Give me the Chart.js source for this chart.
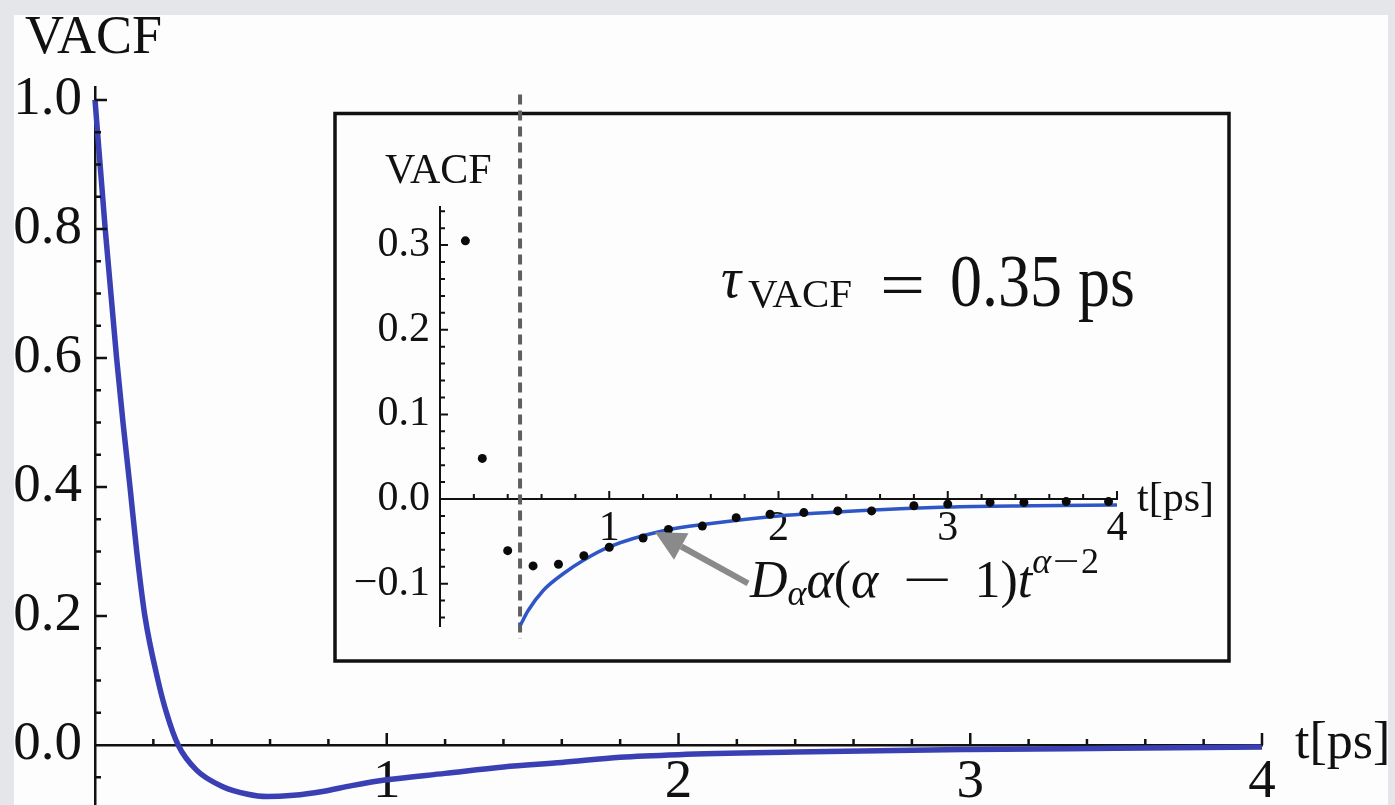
<!DOCTYPE html>
<html><head><meta charset="utf-8">
<script src="https://cdn.jsdelivr.net/npm/chart.js@4.4.1/dist/chart.umd.min.js"></script>
<style>
html,body{margin:0;padding:0;}
body{width:1395px;height:805px;overflow:hidden;background:#e4e6e9;position:relative;}
#panel{position:absolute;left:14px;top:15px;width:1374px;height:790px;background:#fdfdfe;}
canvas{position:absolute;left:0;top:0;}
.lbl{position:absolute;white-space:nowrap;line-height:1;font-family:'Liberation Serif','Times New Roman',serif;color:#111;}
.it{font-style:italic;}
.sub{font-size:36px;position:relative;top:8px;}
.sup{font-size:36px;position:relative;top:-24px;}
.wm{display:inline-block;text-align:center;}
</style></head><body>
<div id="panel"></div>
<canvas id="main" width="1395" height="805"></canvas>
<canvas id="inset" width="1395" height="805"></canvas>
<script>
// ---- main VACF curve ----
const mainTime = [0, 0.035, 0.074, 0.096, 0.12, 0.143, 0.171, 0.216, 0.245, 0.285, 0.348, 0.44, 0.52, 0.59, 0.68, 0.78, 0.88, 1.0, 1.2, 1.4, 1.6, 1.8, 2.0, 2.4, 2.8, 3.0, 3.5, 4.0];
const mainVacf = [1.0, 0.80, 0.60, 0.50, 0.40, 0.30, 0.20, 0.10, 0.05, 0.0, -0.039, -0.065, -0.076, -0.080, -0.078, -0.072, -0.063, -0.054, -0.044, -0.034, -0.027, -0.019, -0.015, -0.011, -0.008, -0.007, -0.005, -0.003];
// ---- inset: simulation points ----
const insetDotTime = [0.15, 0.25, 0.40, 0.55, 0.70, 0.85, 1.00, 1.20, 1.35, 1.55, 1.75, 1.95, 2.15, 2.35, 2.55, 2.80, 3.00, 3.25, 3.45, 3.70, 3.95];
const insetDotVacf = [0.305, 0.048, -0.061, -0.079, -0.077, -0.067, -0.057, -0.046, -0.036, -0.032, -0.022, -0.018, -0.016, -0.014, -0.014, -0.008, -0.006, -0.004, -0.004, -0.003, -0.003];
// ---- inset: power-law tail D_a a(a-1) t^(a-2) ----
const insetFitTime = [0.475, 0.52, 0.61, 0.73, 0.85, 1.0, 1.32, 1.6, 2.0, 2.5, 3.0, 3.5, 4.0];
const insetFitVacf = [-0.149, -0.132, -0.108, -0.088, -0.072, -0.0565, -0.0375, -0.029, -0.020, -0.0135, -0.0095, -0.008, -0.007];
// ---- tick labels ----
const mainXTicks = [1, 2, 3, 4];
const mainYTicks = [0.0, 0.2, 0.4, 0.6, 0.8, 1.0];
const insetXTicks = [1, 2, 3, 4];
const insetYTicks = [-0.1, 0.0, 0.1, 0.2, 0.3];
const cutoffTime = 0.473;   // dashed vertical marker (inset time units)
const arrowTip = [1.27, -0.039];
const arrowTail = [1.82, -0.0995];

const serif = "'Liberation Serif','Times New Roman',serif";
const pts = (xs, ys) => xs.map((x, i) => ({x, y: ys[i]}));
const fmt = v => (v < 0 ? '\u2212' : '') + Math.abs(v).toFixed(1);

function tickMarks(o) {
  return {
    id: 'tickMarks',
    afterDraw(chart) {
      const {ctx, chartArea} = chart;
      const xs = chart.scales.x, ys = chart.scales.y;
      const ax = chartArea.left, ay = ys.getPixelForValue(0);
      ctx.save();
      ctx.strokeStyle = '#111'; ctx.lineWidth = o.width;
      ctx.beginPath();
      o.yValues.forEach(([v, major]) => {
        const p = ys.getPixelForValue(v);
        ctx.moveTo(ax, p); ctx.lineTo(ax + (major ? o.majorLen : o.minorLen), p);
      });
      o.xValues.forEach(([v, major]) => {
        const p = xs.getPixelForValue(v);
        ctx.moveTo(p, ay); ctx.lineTo(p, ay - (major ? o.majorLen : o.minorLen));
      });
      ctx.stroke();
      ctx.restore();
    }
  };
}
function range(k0, k1, step, majorEvery) {
  const out = [];
  for (let k = k0; k <= k1; k++) if (k !== 0) out.push([+(k * step).toFixed(4), k % majorEvery === 0]);
  return out;
}
const noPad = s => { s.paddingTop = 0; s.paddingBottom = 0; };

// ================= MAIN CHART =================
new Chart(document.getElementById('main'), {
  type: 'line',
  data: { datasets: [{
    label: 'VACF', data: pts(mainTime, mainVacf),
    borderColor: '#3a3fb4', borderWidth: 5.5, pointRadius: 0,
    cubicInterpolationMode: 'monotone', fill: false, clip: false
  }]},
  options: {
    responsive: false, animation: false, devicePixelRatio: 1,
    layout: { padding: { left: 0, right: 133, top: 87, bottom: 0 } },
    plugins: { legend: { display: false }, tooltip: { enabled: false } },
    scales: {
      x: {
        type: 'linear', min: 0, max: 4, position: { y: 0 },
        grid: { display: false, drawTicks: false },
        border: { display: true, color: '#111', width: 2.5 },
        afterFit: s => { s.height = 0; },
        afterBuildTicks: s => { s.ticks = mainXTicks.map(v => ({value: v})); },
        ticks: { autoSkip: false, maxRotation: 0, padding: 5, color: '#111',
                 font: { family: serif, size: 55 }, callback: v => String(v) }
      },
      y: {
        type: 'linear', min: -0.093, max: 1.02, position: 'left',
        grid: { display: false, drawTicks: false },
        border: { display: true, color: '#111', width: 2.5 },
        afterFit: s => { s.width = 95; noPad(s); },
        afterBuildTicks: s => { s.ticks = mainYTicks.map(v => ({value: v})); },
        ticks: { autoSkip: false, padding: 13, color: '#111',
                 font: { family: serif, size: 55 }, callback: v => v.toFixed(1) }
      }
    }
  },
  plugins: [tickMarks({ width: 2.5, majorLen: 12, minorLen: 6,
    yValues: range(-1, 20, 0.05, 4), xValues: range(1, 20, 0.2, 5) })]
});

// ================= INSET CHART =================
const insetDecor = {
  id: 'insetDecor',
  beforeDraw(chart) {
    const ctx = chart.ctx;
    ctx.save();
    ctx.fillStyle = '#fdfdfe';
    ctx.fillRect(333, 112, 898, 551);
    ctx.strokeStyle = '#111'; ctx.lineWidth = 3.5;
    ctx.strokeRect(335, 113.5, 894, 547.5);
    ctx.restore();
  },
  beforeDatasetsDraw(chart) {
    const ctx = chart.ctx, xs = chart.scales.x, ys = chart.scales.y;
    const px = xs.getPixelForValue(cutoffTime);
    ctx.save();
    ctx.strokeStyle = '#5f5f5f'; ctx.lineWidth = 4; ctx.setLineDash([10, 6]);
    ctx.beginPath();
    ctx.moveTo(px, ys.getPixelForValue(0.478));
    ctx.lineTo(px, ys.getPixelForValue(-0.165));
    ctx.stroke();
    ctx.restore();
  },
  afterDatasetsDraw(chart) {
    const ctx = chart.ctx, xs = chart.scales.x, ys = chart.scales.y;
    const tx = xs.getPixelForValue(arrowTip[0]), ty = ys.getPixelForValue(arrowTip[1]);
    const sx = xs.getPixelForValue(arrowTail[0]), sy = ys.getPixelForValue(arrowTail[1]);
    const ang = Math.atan2(ty - sy, tx - sx), L = 30, W = 15;
    const bx = tx - L * Math.cos(ang), by = ty - L * Math.sin(ang);
    ctx.save();
    ctx.strokeStyle = '#8a8a8a'; ctx.fillStyle = '#8a8a8a'; ctx.lineWidth = 6;
    ctx.beginPath(); ctx.moveTo(sx, sy); ctx.lineTo(bx, by); ctx.stroke();
    ctx.beginPath();
    ctx.moveTo(tx, ty);
    ctx.lineTo(bx + W * Math.sin(ang), by - W * Math.cos(ang));
    ctx.lineTo(bx - W * Math.sin(ang), by + W * Math.cos(ang));
    ctx.closePath(); ctx.fill();
    ctx.restore();
  }
};

new Chart(document.getElementById('inset'), {
  type: 'line',
  data: { datasets: [
    { label: 'MD', data: pts(insetDotTime, insetDotVacf), showLine: false,
      pointRadius: 4.5, pointBackgroundColor: '#0a0a0a', pointBorderWidth: 0, borderColor: '#0a0a0a', clip: false },
    { label: 'fit', data: pts(insetFitTime, insetFitVacf), borderColor: '#2f56c6', borderWidth: 3.5,
      pointRadius: 0, cubicInterpolationMode: 'monotone', fill: false, clip: false }
  ]},
  options: {
    responsive: false, animation: false, devicePixelRatio: 1,
    layout: { padding: { left: 0, right: 278, top: 207, bottom: 179 } },
    plugins: { legend: { display: false }, tooltip: { enabled: false } },
    scales: {
      x: {
        type: 'linear', min: 0, max: 4, position: { y: 0 },
        grid: { display: false, drawTicks: false },
        border: { display: true, color: '#111', width: 2 },
        afterFit: s => { s.height = 0; },
        afterBuildTicks: s => { s.ticks = insetXTicks.map(v => ({value: v})); },
        ticks: { autoSkip: false, maxRotation: 0, padding: 5, color: '#111',
                 font: { family: serif, size: 42 }, callback: v => String(v) }
      },
      y: {
        type: 'linear', min: -0.15, max: 0.345, position: 'left',
        grid: { display: false, drawTicks: false },
        border: { display: true, color: '#111', width: 2 },
        afterFit: s => { s.width = 440; noPad(s); },
        afterBuildTicks: s => { s.ticks = insetYTicks.map(v => ({value: v})); },
        ticks: { autoSkip: false, padding: 10, color: '#111',
                 font: { family: serif, size: 42 }, callback: v => fmt(v) }
      }
    }
  },
  plugins: [insetDecor, tickMarks({ width: 2, majorLen: 8, minorLen: 5,
    yValues: range(-7, 17, 0.02, 5), xValues: range(1, 20, 0.2, 5) })]
});

// ================= TEXT =================
function addText(html, left, baseline, size, extra) {
  const d = document.createElement('div');
  d.className = 'lbl';
  d.innerHTML = html;
  d.style.left = left + 'px';
  d.style.top = (baseline - 0.8375 * size) + 'px';
  d.style.fontSize = size + 'px';
  if (extra) Object.assign(d.style, extra);
  document.body.appendChild(d);
  return d;
}
addText('VACF', 25, 53, 54);
addText('t[ps]', 1295, 759, 52);
addText('VACF', 385, 183, 42);
addText('t[ps]', 1137, 511, 42);
addText('<span class="it">\u03c4</span>', 721, 297, 56);
addText('VACF', 748, 307, 41);
addText('=', 880, 307, 64, { transform: 'scaleX(1.25)', transformOrigin: '0 0' });
addText('0.35 ps', 950, 307, 64, { transform: 'scaleY(1.15)', transformOrigin: '0 53.6px' });
addText('<span class="it">D</span><span class="it sub">\u03b1</span>' +
        '<span class="it">\u03b1</span>(<span class="it">\u03b1</span>' +
        '<span class="wm" style="width:50px;margin:0 22px 0 24px;transform:scaleX(1.7)">\u2212</span>1)' +
        '<span class="it">t</span><span class="sup"><span class="it">\u03b1</span>' +
        '<span class="wm" style="width:30px;transform:scaleX(1.3)">\u2212</span>2</span>',
        750, 598, 52);
</script>
</body></html>
